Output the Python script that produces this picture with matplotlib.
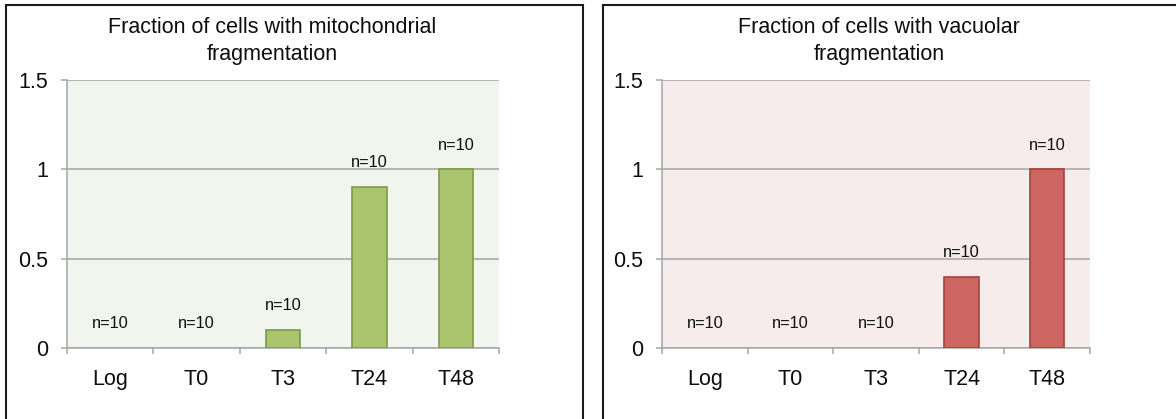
import matplotlib
matplotlib.use("Agg")
import matplotlib.pyplot as plt
from matplotlib.patches import Rectangle
from matplotlib.ticker import FixedLocator

plt.rcParams['font.family'] = ['Liberation Sans', 'DejaVu Sans']

# Data
categories = ["Log", "T0", "T3", "T24", "T48"]
mito_fraction = [0.0, 0.0, 0.1, 0.9, 1.0]
vacuole_fraction = [0.0, 0.0, 0.0, 0.4, 1.0]
n_labels = ["n=10", "n=10", "n=10", "n=10", "n=10"]
y_ticks = [0, 0.5, 1, 1.5]
y_tick_labels = ["0", "0.5", "1", "1.5"]
titles = ["Fraction of cells with mitochondrial\nfragmentation",
          "Fraction of cells with vacuolar\nfragmentation"]

W, H = 1176, 419
fig = plt.figure(figsize=(W / 100, H / 100), dpi=100)
fig.patch.set_facecolor("white")

grid_col = "#a6a6a6"

panels = [
    dict(values=mito_fraction, title=titles[0], ax_px=(67, 499), box_px=(6, 583),
         title_x=272, face="#f2f4ee", bar="#abc56f", edge="#7f9a48"),
    dict(values=vacuole_fraction, title=titles[1], ax_px=(662, 1090), box_px=(603, 1185),
         title_x=879, face="#f5eceb", bar="#cd6560", edge="#a5423f"),
]

y_top_px, y_bot_px = 80, 348

for p in panels:
    x0, x1 = p["ax_px"]
    ax = fig.add_axes([x0 / W, 1 - y_bot_px / H, (x1 - x0) / W, (y_bot_px - y_top_px) / H])
    ax.set_facecolor(p["face"])
    x = list(range(len(categories)))
    bars = ax.bar(x, p["values"], width=0.4, color=p["bar"], edgecolor=p["edge"],
                  linewidth=1.2, zorder=3)
    # empty bars get no outline
    for b, v in zip(bars, p["values"]):
        if v == 0:
            b.set_linewidth(0)
    for xi, v, lab in zip(x, p["values"], n_labels):
        ax.annotate(lab, (xi, v), xytext=(0, 17.5), textcoords="offset points",
                    ha="center", va="center", fontsize=11.8, color="#111111", zorder=4)
    ax.set_xlim(-0.5, len(categories) - 0.5)
    ax.set_ylim(0, 1.5)
    ax.set_yticks(y_ticks)
    ax.set_yticklabels(y_tick_labels)
    ax.set_xticks(x)
    ax.set_xticklabels(categories)
    ax.xaxis.set_minor_locator(FixedLocator([i - 0.5 for i in range(len(categories) + 1)]))
    ax.tick_params(axis="x", which="major", length=0, pad=15, labelsize=15.5, labelcolor="#0d0d0d")
    ax.tick_params(axis="x", which="minor", length=4.5, width=1.1, color=grid_col, direction="out")
    ax.tick_params(axis="y", length=4.5, width=1.1, color=grid_col, pad=9,
                   labelsize=15.5, labelcolor="#0d0d0d")
    ax.grid(axis="y", color=grid_col, linewidth=1.1, zorder=0)
    ax.set_axisbelow(True)
    for s in ["top", "right"]:
        ax.spines[s].set_visible(False)
    for s in ["left", "bottom"]:
        ax.spines[s].set_color(grid_col)
        ax.spines[s].set_linewidth(1.1)

    bx0, bx1 = p["box_px"]
    box = Rectangle((bx0 / W, -0.05), (bx1 - bx0) / W, 1.05 - 5 / H,
                    transform=fig.transFigure, fill=False, edgecolor="#1a1a1a",
                    linewidth=1.5, clip_on=False)
    fig.add_artist(box)

    fig.text(p["title_x"] / W, 1 - 41 / H, p["title"], ha="center", va="center",
             fontsize=15.5, linespacing=1.35, color="#0d0d0d")

fig.savefig("out.png", dpi=100)
